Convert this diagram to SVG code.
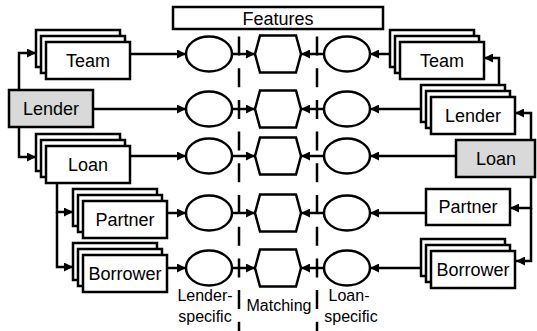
<svg xmlns="http://www.w3.org/2000/svg" width="537" height="331" viewBox="0 0 537 331">
<style>
.b{fill:#fff;stroke:#000;stroke-width:2.5}
.g{fill:#d9d9d9;stroke:#000;stroke-width:2.5}
.t{font-family:"Liberation Sans",Arial,sans-serif;font-size:18px;text-anchor:middle;fill:#000}
.s{font-family:"Liberation Sans",Arial,sans-serif;font-size:16px;text-anchor:middle;fill:#000}
.c{fill:none;stroke:#000;stroke-width:2.5;marker-end:url(#ah)}
.d{fill:none;stroke:#000;stroke-width:2.5;stroke-dasharray:19 12.7}
</style>
<defs>
<marker id="ah" viewBox="0 0 10 10" refX="10" refY="5" markerUnits="userSpaceOnUse" markerWidth="9" markerHeight="9" orient="auto">
<path d="M0,0 L10,5 L0,10 z" fill="#000"/>
</marker>
<g id="stackL">
<rect class="b" x="0" y="0" width="84" height="37"/>
<rect class="b" x="5" y="6" width="84" height="37"/>
<rect class="b" x="10" y="12" width="84" height="37"/>
</g>
<ellipse id="circ" class="b" cx="0" cy="0" rx="23" ry="17.5"/>
<polygon id="hex" class="b" points="-18,-18.5 18,-18.5 23,0 18,18.5 -18,18.5 -23,0"/>
</defs>

<g id="features">
<rect class="b" x="173" y="7" width="210" height="22"/>
<text class="t" x="278" y="25">Features</text>
</g>

<g id="dividers">
<line class="d" x1="239" y1="36.5" x2="239" y2="331"/>
<line class="d" x1="317" y1="36.5" x2="317" y2="331"/>
</g>

<g id="connectors">
<!-- left tree -->
<polyline class="c" points="19,90 19,53 36,53"/>
<polyline class="c" points="19,127 19,157 36,157"/>
<polyline class="c" points="57,183 57,212 73,212"/>
<polyline class="c" points="57,212 57,267 73,267"/>
<!-- left to circles -->
<line class="c" x1="130" y1="54" x2="186" y2="54"/>
<line class="c" x1="93" y1="109" x2="186" y2="109"/>
<line class="c" x1="130" y1="156" x2="186" y2="156"/>
<line class="c" x1="167" y1="213" x2="186" y2="213"/>
<line class="c" x1="167" y1="268" x2="186" y2="268"/>
<!-- circles to hexagons -->
<line class="c" x1="232" y1="54" x2="255" y2="54"/>
<line class="c" x1="232" y1="109" x2="255" y2="109"/>
<line class="c" x1="232" y1="156" x2="255" y2="156"/>
<line class="c" x1="232" y1="213" x2="255" y2="213"/>
<line class="c" x1="232" y1="268" x2="255" y2="268"/>
<line class="c" x1="324" y1="54" x2="301" y2="54"/>
<line class="c" x1="324" y1="109" x2="301" y2="109"/>
<line class="c" x1="324" y1="156" x2="301" y2="156"/>
<line class="c" x1="324" y1="213" x2="301" y2="213"/>
<line class="c" x1="324" y1="268" x2="301" y2="268"/>
<!-- right to circles -->
<line class="c" x1="389" y1="54" x2="370" y2="54"/>
<line class="c" x1="421" y1="109" x2="370" y2="109"/>
<line class="c" x1="456" y1="156" x2="370" y2="156"/>
<line class="c" x1="426" y1="213" x2="370" y2="213"/>
<line class="c" x1="421" y1="268" x2="370" y2="268"/>
<!-- right tree -->
<polyline class="c" points="499,84 499,58 484,58"/>
<polyline class="c" points="531,140 531,113 515,113"/>
<polyline class="c" points="531,177 531,208 510,208"/>
<polyline class="c" points="531,208 531,261 516,261"/>
</g>

<g id="shapes">
<use href="#circ" x="209" y="54"/><use href="#circ" x="209" y="109"/><use href="#circ" x="209" y="156"/><use href="#circ" x="209" y="213"/><use href="#circ" x="209" y="268"/>
<use href="#hex" x="278" y="54"/><use href="#hex" x="278" y="109"/><use href="#hex" x="278" y="156"/><use href="#hex" x="278" y="213"/><use href="#hex" x="278" y="268"/>
<use href="#circ" x="347" y="54"/><use href="#circ" x="347" y="109"/><use href="#circ" x="347" y="156"/><use href="#circ" x="347" y="213"/><use href="#circ" x="347" y="268"/>
</g>

<g id="lender-left">
<rect class="g" x="9" y="90" width="84" height="37"/>
<text class="t" x="51" y="115">Lender</text>
</g>
<g id="team-left">
<use href="#stackL" x="36" y="30"/>
<text class="t" x="88" y="67">Team</text>
</g>
<g id="loan-left">
<use href="#stackL" x="36" y="134"/>
<text class="t" x="88" y="171">Loan</text>
</g>
<g id="partner-left">
<use href="#stackL" x="73" y="189"/>
<text class="t" x="125" y="226">Partner</text>
</g>
<g id="borrower-left">
<use href="#stackL" x="73" y="243"/>
<text class="t" x="125" y="280">Borrower</text>
</g>

<g id="team-right">
<use href="#stackL" x="390" y="30"/>
<text class="t" x="442" y="67">Team</text>
</g>
<g id="lender-right">
<use href="#stackL" x="421" y="85"/>
<text class="t" x="473" y="122">Lender</text>
</g>
<g id="loan-right">
<rect class="g" x="456" y="140" width="79" height="37"/>
<text class="t" x="496" y="165">Loan</text>
</g>
<g id="partner-right">
<rect class="b" x="426" y="189" width="84" height="36"/>
<text class="t" x="468" y="213">Partner</text>
</g>
<g id="borrower-right">
<use href="#stackL" x="421" y="239"/>
<text class="t" x="473" y="276">Borrower</text>
</g>

<g id="labels">
<text class="s" x="205" y="301">Lender-</text>
<text class="s" x="205" y="322">specific</text>
<text class="s" x="279" y="311">Matching</text>
<text class="s" x="349" y="301">Loan-</text>
<text class="s" x="351" y="322">specific</text>
</g>
</svg>
